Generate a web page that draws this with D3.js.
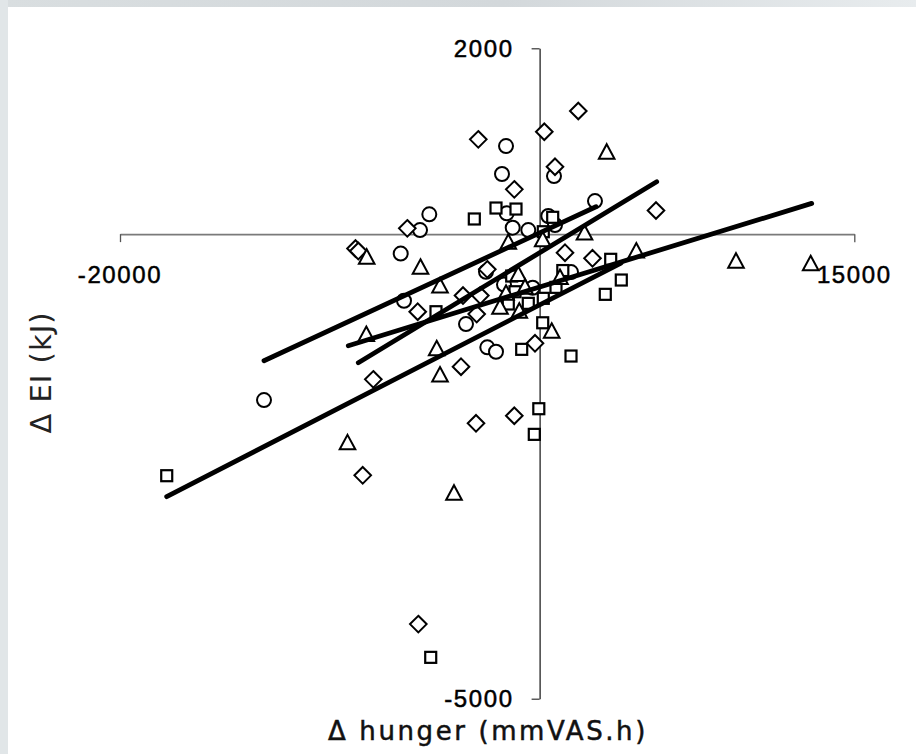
<!DOCTYPE html>
<html>
<head>
<meta charset="utf-8">
<script src="https://cdn.jsdelivr.net/npm/d3@7"></script>
<style>
  html, body { margin: 0; padding: 0; background: #ffffff; }
  svg { display: block; }
</style>
</head>
<body>
<svg id="chart" width="916" height="754"></svg>
<script>
// Change in energy intake (kJ) against change in hunger AUC (mmVAS.h), four groups
const circles = [
  [-1601, 948], [-1792, 647], [686, 625], [2640, 356], [-5257, 213],
  [-1568, 224], [-5700, 44], [-1282, 69], [-539, 44], [415, 195],
  [734, 98], [-6620, -209], [-2555, -405], [1497, -408], [-1697, -542],
  [-329, -577], [-6463, -717], [-3508, -968], [-2493, -1218], [-2078, -1266],
  [-13136, -1786]
];
const diamonds = [
  [1844, 1325], [-2922, 1020], [224, 1102], [734, 725], [-1206, 482],
  [5548, 254], [-6306, 62], [-8775, -155], [-8641, -182], [1211, -200],
  [2521, -260], [-2493, -379], [-3651, -661], [-2826, -661], [-5810, -835],
  [-2998, -860], [-219, -1175], [-3746, -1427], [-7926, -1563], [-1206, -1955],
  [-3031, -2036], [-8431, -2596], [-5781, -4197]
];
const squares = [
  [-2078, 281], [-1125, 270], [-3112, 163], [624, 181], [176, 26],
  [3389, -271], [3894, -494], [3131, -648], [-1330, -451], [1106, -392],
  [-1172, -620], [782, -573], [-4938, -835], [-1492, -752], [-539, -745],
  [176, -691], [148, -954], [-853, -1240], [1497, -1312], [-38, -1879],
  [-253, -2155], [-17773, -2600], [-5190, -4555]
];
const triangles = [
  [3198, 887], [2140, 17], [148, -56], [-1492, -82], [-8241, -243],
  [-5677, -351], [4609, -177], [9361, -286], [12921, -314], [-4747, -553],
  [-1015, -429], [972, -462], [-1601, -631], [-696, -566], [-1887, -781],
  [-968, -824], [577, -1040], [-4905, -1229], [-4747, -1511], [-8260, -1075],
  [-9156, -2241], [-4080, -2783]
];

// Linear fits per group: [x start, y start, x end, y end]
const fitCircles   = [-13136, -1363, 2688, 295];
const fitDiamonds  = [-8641, -1384, 5581, 564];
const fitSquares   = [-17774, -2826, 3880, -311];
const fitTriangles = [-9118, -1201, 12969, 331];

const xDomain = [-20000, 15000];
const yDomain = [-5000, 2000];
const xTicks = [-20000, 15000];
const yTicks = [2000, -5000];
const xTitle = "\u0394 hunger (mmVAS.h)";
const yTitle = "\u0394 EI (kJ)";

const svg = d3.select("#chart");

// soft grey border strips along the left and top edges
const defs = svg.append("defs");
const gTop = defs.append("linearGradient").attr("id", "topStrip").attr("x1", 0).attr("x2", 1);
gTop.append("stop").attr("offset", "0").attr("stop-color", "#d9dee0");
gTop.append("stop").attr("offset", "0.55").attr("stop-color", "#d3d8db");
gTop.append("stop").attr("offset", "1").attr("stop-color", "#e8ecee");
svg.append("rect").attr("x", 0).attr("y", 0).attr("width", 916).attr("height", 7)
  .attr("fill", "url(#topStrip)");
svg.append("rect").attr("x", 0).attr("y", 0).attr("width", 8).attr("height", 754)
  .attr("fill", "#e1e6e8");

const x = d3.scaleLinear().domain(xDomain).range([120, 854.3]);
const y = d3.scaleLinear().domain(yDomain).range([698.7, 48.3]);

// axes crossing at the origin
const xAxis = svg.append("g")
  .attr("transform", `translate(0,${y(0)})`)
  .call(d3.axisBottom(x).tickValues(xTicks).tickSize(8).tickSizeOuter(0).tickFormat(""));
xAxis.select(".domain").attr("stroke", "#7a7a7a").attr("stroke-width", 1.6);
xAxis.selectAll(".tick line").attr("stroke", "#555").attr("stroke-width", 1.3);

const yAxis = svg.append("g")
  .attr("transform", `translate(${x(0)},0)`)
  .call(d3.axisLeft(y).tickValues(yTicks).tickSize(8).tickSizeOuter(0).tickFormat(""));
yAxis.select(".domain").attr("stroke", "#111").attr("stroke-width", 1.2);
yAxis.selectAll(".tick line").attr("stroke", "#333").attr("stroke-width", 1.2);

const tickFont = "'Liberation Sans', Arial, sans-serif";

svg.append("g").selectAll("text").data(xTicks).join("text")
  .attr("x", d => x(d))
  .attr("y", y(0) + 40)
  .attr("text-anchor", "middle")
  .attr("dominant-baseline", "central")
  .attr("font-family", tickFont)
  .attr("font-size", 24)
  .attr("letter-spacing", "1.6px")
  .attr("fill", "#000").attr("stroke", "#000").attr("stroke-width", 0.5)
  .text(d => d);

svg.append("g").selectAll("text").data(yTicks).join("text")
  .attr("x", x(0) - 26)
  .attr("y", d => y(d))
  .attr("text-anchor", "end")
  .attr("dominant-baseline", "central")
  .attr("font-family", tickFont)
  .attr("font-size", 24)
  .attr("letter-spacing", "1.6px")
  .attr("fill", "#000").attr("stroke", "#000").attr("stroke-width", 0.5)
  .text(d => d);

// axis titles
svg.append("text")
  .attr("x", 488).attr("y", 740)
  .attr("text-anchor", "middle")
  .attr("font-family", "'DejaVu Sans', Verdana, sans-serif")
  .attr("font-size", 26)
  .attr("letter-spacing", "2.6px")
  .attr("fill", "#111").attr("stroke", "#111").attr("stroke-width", 0.5)
  .text(xTitle);

svg.append("text")
  .attr("transform", "translate(51,372.5) rotate(-90)")
  .attr("text-anchor", "middle")
  .attr("font-family", "'DejaVu Sans', Verdana, sans-serif")
  .attr("font-size", 29)
  .attr("letter-spacing", "1px")
  .attr("fill", "#222")
  .text(yTitle);

// markers
const marks = svg.append("g")
  .attr("fill", "#fff").attr("stroke", "#000").attr("stroke-width", 2);

marks.append("g").selectAll("circle").data(circles).join("circle")
  .attr("cx", d => x(d[0])).attr("cy", d => y(d[1])).attr("r", 7);

const diamond = "M0,-8.3L8.3,0L0,8.3L-8.3,0Z";
marks.append("g").selectAll("path").data(diamonds).join("path")
  .attr("transform", d => `translate(${x(d[0])},${y(d[1])})`)
  .attr("d", diamond);

marks.append("g").attr("stroke-width", 2.2).selectAll("rect").data(squares).join("rect")
  .attr("x", d => x(d[0]) - 5.5).attr("y", d => y(d[1]) - 5.5)
  .attr("width", 11).attr("height", 11);

const triangle = "M0,-7.5L7.8,7L-7.8,7Z";
marks.append("g").selectAll("path").data(triangles).join("path")
  .attr("transform", d => `translate(${x(d[0])},${y(d[1])})`)
  .attr("d", triangle);

// fitted lines
const fits = [fitCircles, fitDiamonds, fitSquares, fitTriangles];
svg.append("g").selectAll("line").data(fits).join("line")
  .attr("x1", d => x(d[0])).attr("y1", d => y(d[1]))
  .attr("x2", d => x(d[2])).attr("y2", d => y(d[3]))
  .attr("stroke", "#000").attr("stroke-width", 4.8).attr("stroke-linecap", "round");
</script>
</body>
</html>
